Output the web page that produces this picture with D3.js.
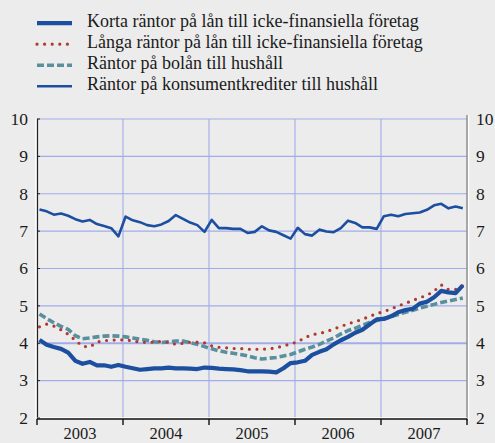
<!DOCTYPE html>
<html>
<head>
<meta charset="utf-8">
<script src="https://cdn.jsdelivr.net/npm/d3@7/dist/d3.min.js"></script>
<style>
  body { margin: 0; background: #ececec; }
  svg { display: block; font-family: "Liberation Serif", "Times New Roman", serif; }
</style>
</head>
<body>
<svg id="chart"></svg>
<script>
// monthly values, jan 2003 - dec 2007
const years = [2003, 2004, 2005, 2006, 2007];
const yTicks = [2, 3, 4, 5, 6, 7, 8, 9, 10];

const labels = [
    "Korta räntor på lån till icke-finansiella företag",
    "Långa räntor på lån till icke-finansiella företag",
    "Räntor på bolån till hushåll",
    "Räntor på konsumentkrediter till hushåll"
];

const korta = [
    4.09, 3.96, 3.90, 3.85, 3.75, 3.53, 3.45, 3.50, 3.41, 3.41, 3.37, 3.42,
    3.37, 3.33, 3.29, 3.31, 3.33, 3.33, 3.35, 3.33, 3.33, 3.32, 3.31, 3.35,
    3.34, 3.32, 3.31, 3.30, 3.28, 3.25, 3.25, 3.25, 3.24, 3.22, 3.33, 3.47,
    3.49, 3.53, 3.69, 3.77, 3.84, 3.97, 4.08, 4.17, 4.28, 4.36, 4.50, 4.64,
    4.65, 4.72, 4.83, 4.89, 4.92, 5.06, 5.11, 5.23, 5.40, 5.36, 5.34, 5.55
];

const langa = [
    4.44, 4.51, 4.46, 4.36, 4.24, 4.08, 3.92, 3.90, 4.03, 4.07, 4.08, 4.09,
    4.09, 4.06, 4.03, 4.02, 4.03, 4.05, 4.02, 3.97, 4.00, 4.03, 4.03, 4.01,
    3.93, 3.89, 3.88, 3.86, 3.86, 3.84, 3.84, 3.84, 3.85, 3.88, 3.93, 3.98,
    4.04, 4.15, 4.23, 4.26, 4.31, 4.38, 4.45, 4.52, 4.58, 4.64, 4.72, 4.79,
    4.85, 4.92, 5.00, 5.07, 5.14, 5.22, 5.28, 5.40, 5.56, 5.44, 5.44, 5.54
];

const bolan = [
    4.78, 4.66, 4.55, 4.45, 4.37, 4.20, 4.12, 4.14, 4.17, 4.19, 4.20, 4.19,
    4.17, 4.14, 4.11, 4.08, 4.04, 4.02, 4.04, 4.06, 4.06, 4.02, 3.97, 3.91,
    3.85, 3.80, 3.76, 3.73, 3.70, 3.66, 3.61, 3.58, 3.60, 3.62, 3.66, 3.70,
    3.77, 3.84, 3.90, 3.97, 4.06, 4.14, 4.25, 4.34, 4.40, 4.48, 4.56, 4.61,
    4.66, 4.71, 4.77, 4.83, 4.88, 4.94, 4.99, 5.04, 5.09, 5.13, 5.17, 5.21
];

const konsument = [
    7.58, 7.53, 7.44, 7.47, 7.41, 7.32, 7.26, 7.30, 7.19, 7.14, 7.08, 6.86,
    7.39, 7.29, 7.24, 7.16, 7.13, 7.18, 7.27, 7.43, 7.33, 7.23, 7.16, 6.98,
    7.30, 7.08, 7.08, 7.06, 7.06, 6.95, 6.98, 7.13, 7.02, 6.98, 6.89, 6.80,
    7.09, 6.92, 6.88, 7.04, 6.99, 6.97, 7.08, 7.28, 7.22, 7.10, 7.10, 7.06,
    7.40, 7.44, 7.40, 7.46, 7.48, 7.50, 7.57, 7.69, 7.73, 7.61, 7.66, 7.61
];

const BLUE = "#1c4f9f", RED = "#b13a2f", TEAL = "#5a8f9d", GRID = "#a2acea";

// legend order = labels order, draw order is different
const styles = [
    { color: BLUE, width: 4.2, dash: null, cap: "butt" },
    { color: RED, width: 3.2, dash: "0,7.6", cap: "round" },
    { color: TEAL, width: 3.6, dash: "7,3", cap: "butt" },
    { color: BLUE, width: 2.6, dash: null, cap: "butt" }
];
const series = [korta, langa, bolan, konsument];

class RateChart {
    margin = { top: 119, right: 28, bottom: 25, left: 37 }

    constructor(svg, width = 495, height = 443) {
        this.svg = d3.select(svg);
        this.width = width - this.margin.left - this.margin.right;
        this.height = height - this.margin.top - this.margin.bottom;
    }

    initialize() {
        this.svg.attr("width", 495).attr("height", 443);

        this.svg.append("rect")
            .attr("width", 495).attr("height", 443)
            .attr("fill", "#ececec");

        const left = this.margin.left, right = left + this.width;
        const bottom = this.margin.top + this.height;

        this.xYear = d3.scaleLinear().domain([2003, 2008]).range([left, right]);
        this.xMonth = d3.scaleLinear().domain([0, 59]).range([39.5, 462.8]);
        this.yScale = d3.scaleLinear().domain([2, 10]).range([418, 119]);

        this.grid = this.svg.append("g");
        this.lines = this.svg.append("g");
        this.axes = this.svg.append("g");
        this.legend = this.svg.append("g");

        this.left = left;
        this.right = right;
        this.bottom = bottom;
    }

    drawGrid() {
        const y = this.yScale, x = this.xYear;

        this.grid.selectAll("line.h")
            .data(yTicks.filter(d => d > 2))
            .join("line")
            .attr("class", "h")
            .attr("x1", this.left).attr("x2", this.right)
            .attr("y1", d => y(d)).attr("y2", d => y(d))
            .attr("stroke", GRID)
            .attr("stroke-width", d => d === 4 ? 2 : 1.1);

        this.grid.selectAll("line.v")
            .data(years.slice(1))
            .join("line")
            .attr("class", "v")
            .attr("x1", d => x(d)).attr("x2", d => x(d))
            .attr("y1", y(10)).attr("y2", this.bottom)
            .attr("stroke", GRID)
            .attr("stroke-width", 1.1);
    }

    drawLines() {
        const line = d3.line()
            .x((d, i) => this.xMonth(i))
            .y(d => this.yScale(d))
            .curve(d3.curveLinear);

        // bolån first, then långa, korta and konsument on top
        [2, 1, 0, 3].forEach(k => {
            const s = styles[k];
            this.lines.append("path")
                .datum(series[k])
                .attr("fill", "none")
                .attr("stroke", s.color)
                .attr("stroke-width", s.width)
                .attr("stroke-linecap", s.cap)
                .attr("stroke-linejoin", "round")
                .attr("stroke-dasharray", s.dash)
                .attr("d", line);
        });
    }

    drawAxes() {
        const y = this.yScale, x = this.xYear;
        const top = y(10), bottom = this.bottom;

        // left axis: white edge + dark line
        this.axes.append("line")
            .attr("x1", this.left - 1.2).attr("x2", this.left - 1.2)
            .attr("y1", top).attr("y2", bottom + 1)
            .attr("stroke", "#ffffff").attr("stroke-width", 1.2);
        this.axes.append("line")
            .attr("x1", this.left + 0.5).attr("x2", this.left + 0.5)
            .attr("y1", top).attr("y2", bottom + 1)
            .attr("stroke", "#222").attr("stroke-width", 1.2);

        // right axis
        this.axes.append("line")
            .attr("x1", this.right + 1.6).attr("x2", this.right + 1.6)
            .attr("y1", top - 4).attr("y2", bottom + 3)
            .attr("stroke", "#ffffff").attr("stroke-width", 1.4);
        this.axes.append("line")
            .attr("x1", this.right).attr("x2", this.right)
            .attr("y1", top - 4).attr("y2", bottom + 3)
            .attr("stroke", "#8a8a8a").attr("stroke-width", 1.4);

        // bottom axis
        this.axes.append("line")
            .attr("x1", this.left).attr("x2", this.right)
            .attr("y1", bottom - 0.2).attr("y2", bottom - 0.2)
            .attr("stroke", "#ffffff").attr("stroke-width", 1);
        this.axes.append("line")
            .attr("x1", this.left).attr("x2", this.right)
            .attr("y1", bottom + 1).attr("y2", bottom + 1)
            .attr("stroke", "#111").attr("stroke-width", 1.3);

        this.axes.selectAll("line.tick")
            .data(years.concat([2008]))
            .join("line")
            .attr("class", "tick")
            .attr("x1", d => x(d)).attr("x2", d => x(d))
            .attr("y1", bottom + 1).attr("y2", bottom + 7)
            .attr("stroke", "#111").attr("stroke-width", 1.4);

        // small ticks at the left axis
        this.axes.selectAll("line.ytick")
            .data(yTicks)
            .join("line")
            .attr("class", "ytick")
            .attr("x1", this.left).attr("x2", this.left + 3)
            .attr("y1", d => y(d)).attr("y2", d => y(d))
            .attr("stroke", "#222").attr("stroke-width", 1);

        this.axes.selectAll("text.yl")
            .data(yTicks)
            .join("text")
            .attr("class", "yl")
            .attr("x", 28).attr("y", d => y(d))
            .attr("dy", "0.33em")
            .attr("text-anchor", "end")
            .attr("font-size", 17.5)
            .attr("fill", "#1a1a1a")
            .text(d => d);

        this.axes.selectAll("text.yr")
            .data(yTicks)
            .join("text")
            .attr("class", "yr")
            .attr("x", 476).attr("y", d => y(d))
            .attr("dy", "0.33em")
            .attr("font-size", 17.5)
            .attr("fill", "#1a1a1a")
            .text(d => d);

        this.axes.selectAll("text.year")
            .data(years)
            .join("text")
            .attr("class", "year")
            .attr("x", d => x(d + 0.5))
            .attr("y", 438.5)
            .attr("text-anchor", "middle")
            .attr("font-size", 16.5)
            .attr("fill", "#1a1a1a")
            .text(d => d);
    }

    drawLegend() {
        const rows = this.legend.selectAll("g")
            .data(labels)
            .join("g")
            .attr("transform", (d, i) => `translate(0, ${26.6 + i * 21})`);

        rows.append("line")
            .attr("x1", 37).attr("x2", 72)
            .attr("y1", -3.4).attr("y2", -3.4)
            .attr("stroke", (d, i) => styles[i].color)
            .attr("stroke-width", (d, i) => styles[i].width)
            .attr("stroke-linecap", (d, i) => styles[i].cap)
            .attr("stroke-dasharray", (d, i) => styles[i].dash);

        rows.append("text")
            .attr("x", 87)
            .attr("font-size", 18)
            .attr("fill", "#1a1a1a")
            .text(d => d);
    }
}

const chart = new RateChart("#chart");
chart.initialize();
chart.drawGrid();
chart.drawLines();
chart.drawAxes();
chart.drawLegend();
</script>
</body>
</html>
